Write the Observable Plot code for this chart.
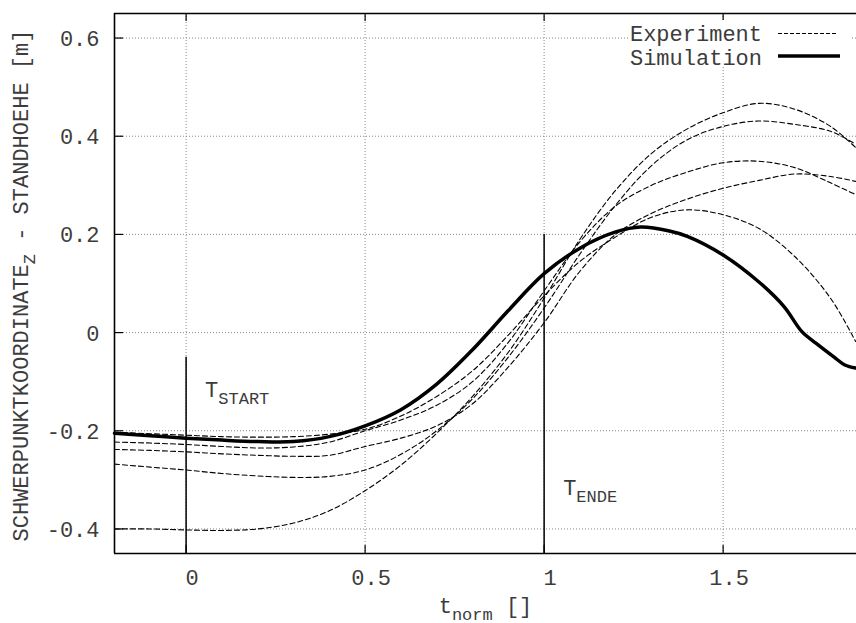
<!DOCTYPE html>
<html>
<head>
<meta charset="utf-8">
<script src="https://cdn.jsdelivr.net/npm/d3@7"></script>
<script src="https://cdn.jsdelivr.net/npm/@observablehq/plot@0.6"></script>
<style>
  body { margin: 0; background: #fff; }
  #chart { width: 856px; height: 623px; }
</style>
</head>
<body>
<div id="chart"></div>
<script>
// Normalised time samples shared by the measured runs
const tExp = [-0.2, -0.1, 0, 0.1, 0.2, 0.3, 0.4, 0.5, 0.6, 0.7, 0.8, 0.9, 1.0, 1.1, 1.2, 1.3, 1.4, 1.5, 1.6, 1.7, 1.8, 1.87];

// Measured runs: centre-of-mass height minus standing height [m]
const expA = [-0.400, -0.400, -0.402, -0.403, -0.400, -0.388, -0.363, -0.322, -0.270, -0.205, -0.130, -0.040, 0.070, 0.190, 0.290, 0.365, 0.415, 0.448, 0.467, 0.455, 0.420, 0.377];
const expB = [-0.268, -0.274, -0.280, -0.287, -0.292, -0.295, -0.293, -0.280, -0.248, -0.200, -0.135, -0.050, 0.050, 0.160, 0.260, 0.340, 0.393, 0.420, 0.431, 0.424, 0.410, 0.384];
const expC = [-0.223, -0.225, -0.228, -0.232, -0.235, -0.233, -0.223, -0.200, -0.178, -0.148, -0.100, -0.020, 0.085, 0.185, 0.258, 0.300, 0.327, 0.346, 0.349, 0.336, 0.305, 0.281];
const expD = [-0.238, -0.240, -0.243, -0.247, -0.250, -0.252, -0.250, -0.232, -0.215, -0.190, -0.145, -0.070, 0.020, 0.125, 0.200, 0.243, 0.272, 0.294, 0.310, 0.323, 0.318, 0.308];
const expE = [-0.203, -0.206, -0.209, -0.212, -0.213, -0.212, -0.207, -0.197, -0.170, -0.130, -0.078, -0.005, 0.075, 0.145, 0.195, 0.235, 0.250, 0.240, 0.212, 0.155, 0.070, -0.018];

// Simulated trajectory
const tSim = [-0.2, -0.1, 0, 0.1, 0.2, 0.3, 0.4, 0.5, 0.6, 0.7, 0.8, 0.9, 1.0, 1.1, 1.2, 1.27, 1.35, 1.4, 1.5, 1.6, 1.67, 1.72, 1.76, 1.81, 1.84, 1.87];
const ySim = [-0.205, -0.210, -0.215, -0.219, -0.222, -0.222, -0.212, -0.190, -0.157, -0.105, -0.035, 0.045, 0.120, 0.172, 0.205, 0.215, 0.207, 0.196, 0.158, 0.103, 0.053, 0.002, -0.022, -0.050, -0.066, -0.072];

// Axes
const xDomain = [-0.2, 1.8725];
const yDomain = [-0.45, 0.65];
const xTicks = [0, 0.5, 1, 1.5];
const xTickLabels = ["0", "0.5", "1", "1.5"];
const yTicks = [-0.4, -0.2, 0, 0.2, 0.4, 0.6];
const yTickLabels = ["-0.4", "-0.2", "0", "0.2", "0.4", "0.6"];
const xLabel = "t_{norm} []";
const yLabel = "SCHWERPUNKTKOORDINATE_{Z} - STANDHOEHE [m]";

// Start / end markers of the movement phase
const markerT = [0, 1];
const markerTop = [-0.05, 0.2];
const markerLabelY = [-0.131, -0.331];
const markerLabels = ["T_{START}", "T_{ENDE}"];

const seriesNames = ["Experiment", "Simulation"];

const expRows = [expA, expB, expC, expD, expE].flatMap((ys, k) =>
  ys.map((y, i) => ({run: k, t: tExp[i], y})));
const simRows = ySim.map((y, i) => ({t: tSim[i], y}));

const W = 856, H = 623, mL = 114, mR = 0, mT = 13, mB = 70;
const plotW = W - mL - mR, plotH = H - mT - mB;
const font = "'Liberation Mono', 'Courier New', monospace";
const ink = "#000";
const textInk = "#3c3c3c";
const grid = {stroke: "#8a8a8a", strokeWidth: 1, strokeDasharray: "1,2"};

const chart = Plot.plot({
  width: W,
  height: H,
  marginLeft: mL,
  marginRight: mR,
  marginTop: mT,
  marginBottom: mB,
  x: {domain: xDomain, axis: null},
  y: {domain: yDomain, axis: null},
  style: {fontFamily: font, fontSize: "22px", background: "#fff", color: "#000"},
  marks: [
    // dotted grid
    Plot.ruleX(xTicks, {x: d => d, ...grid}),
    Plot.ruleY(yTicks, {y: d => d, ...grid}),
    // inward tick marks on bottom, top and left borders
    Plot.tickX(xTicks, {x: d => d, insetTop: plotH - 8, stroke: ink, strokeWidth: 1.2}),
    Plot.tickX(xTicks, {x: d => d, insetBottom: plotH - 8, stroke: ink, strokeWidth: 1.2}),
    Plot.tickY(yTicks, {y: d => d, insetRight: plotW - 9, stroke: ink, strokeWidth: 1.2}),
    // border
    Plot.ruleX([xDomain[0]], {x: d => d, stroke: ink, strokeWidth: 1.6}),
    Plot.ruleY([yDomain[0], yDomain[1]], {y: d => d, stroke: ink, strokeWidth: 1.6}),
    // phase markers
    Plot.ruleX(markerT, {x: d => d, y1: () => yDomain[0], y2: (d, i) => markerTop[i], stroke: ink, strokeWidth: 1.5}),
    Plot.text(markerT, {x: d => d, y: (d, i) => markerLabelY[i], text: (d, i) => markerLabels[i],
      textAnchor: "start", lineAnchor: "bottom", dx: 19, fill: textInk}),
    // measured and simulated trajectories
    Plot.line(expRows, {x: "t", y: "y", z: "run", stroke: ink, strokeWidth: 1.1, strokeDasharray: "5,3", curve: "catmull-rom"}),
    Plot.line(simRows, {x: "t", y: "y", stroke: ink, strokeWidth: 3.5, strokeLinejoin: "round", curve: "catmull-rom"}),
    // tick labels
    Plot.text(xTicks, {x: d => d, frameAnchor: "bottom", text: (d, i) => xTickLabels[i],
      textAnchor: "middle", lineAnchor: "bottom", dx: 6, dy: 31, fill: textInk}),
    Plot.text(yTicks, {y: d => d, frameAnchor: "left", text: (d, i) => yTickLabels[i],
      textAnchor: "end", lineAnchor: "middle", dx: -15, dy: 1, fill: textInk}),
    // axis titles
    Plot.text([xLabel], {frameAnchor: "bottom", text: d => d, textAnchor: "middle", lineAnchor: "bottom", dy: 59, fill: textInk}),
    Plot.text([yLabel], {frameAnchor: "left", text: d => d, rotate: -90, textAnchor: "middle", lineAnchor: "bottom", dx: -87, dy: 2, fill: textInk})
  ]
});

// Turn "_{...}" in labels into lowered, smaller subscripts
function setSubscripts(root) {
  d3.select(root).selectAll("text").each(function () {
    const s = this.textContent;
    if (!s.includes("_{")) return;
    const parts = s.split(/(_\{[^}]*\})/).filter(p => p);
    this.textContent = "";
    let lowered = false;
    for (const p of parts) {
      const t = document.createElementNS("http://www.w3.org/2000/svg", "tspan");
      if (p.startsWith("_{")) {
        t.textContent = p.slice(2, -1);
        t.setAttribute("font-size", "17");
        t.setAttribute("dy", "7");
        lowered = true;
      } else {
        t.textContent = p;
        if (lowered) { t.setAttribute("dy", "-7"); lowered = false; }
      }
      this.appendChild(t);
    }
  });
}
setSubscripts(chart);

// Key in the upper right corner
const frameRight = W - mR, frameTop = mT;
const key = d3.select(chart).append("g").attr("font-family", font).attr("font-size", 22);
key.append("rect").attr("x", frameRight - 228).attr("y", frameTop + 7).attr("width", 222).attr("height", 47).attr("fill", "#fff");
key.selectAll("text").data(seriesNames).join("text")
  .attr("x", frameRight - 94).attr("y", (d, i) => frameTop + 28 + i * 24)
  .attr("text-anchor", "end").attr("fill", textInk).text(d => d);
key.append("line").attr("x1", frameRight - 78).attr("x2", frameRight - 18).attr("y1", frameTop + 20.5).attr("y2", frameTop + 20.5)
  .attr("stroke", ink).attr("stroke-width", 1.1).attr("stroke-dasharray", "4,2");
key.append("line").attr("x1", frameRight - 78).attr("x2", frameRight - 16).attr("y1", frameTop + 43).attr("y2", frameTop + 43)
  .attr("stroke", ink).attr("stroke-width", 3.5);

document.getElementById("chart").appendChild(chart);
</script>
</body>
</html>
